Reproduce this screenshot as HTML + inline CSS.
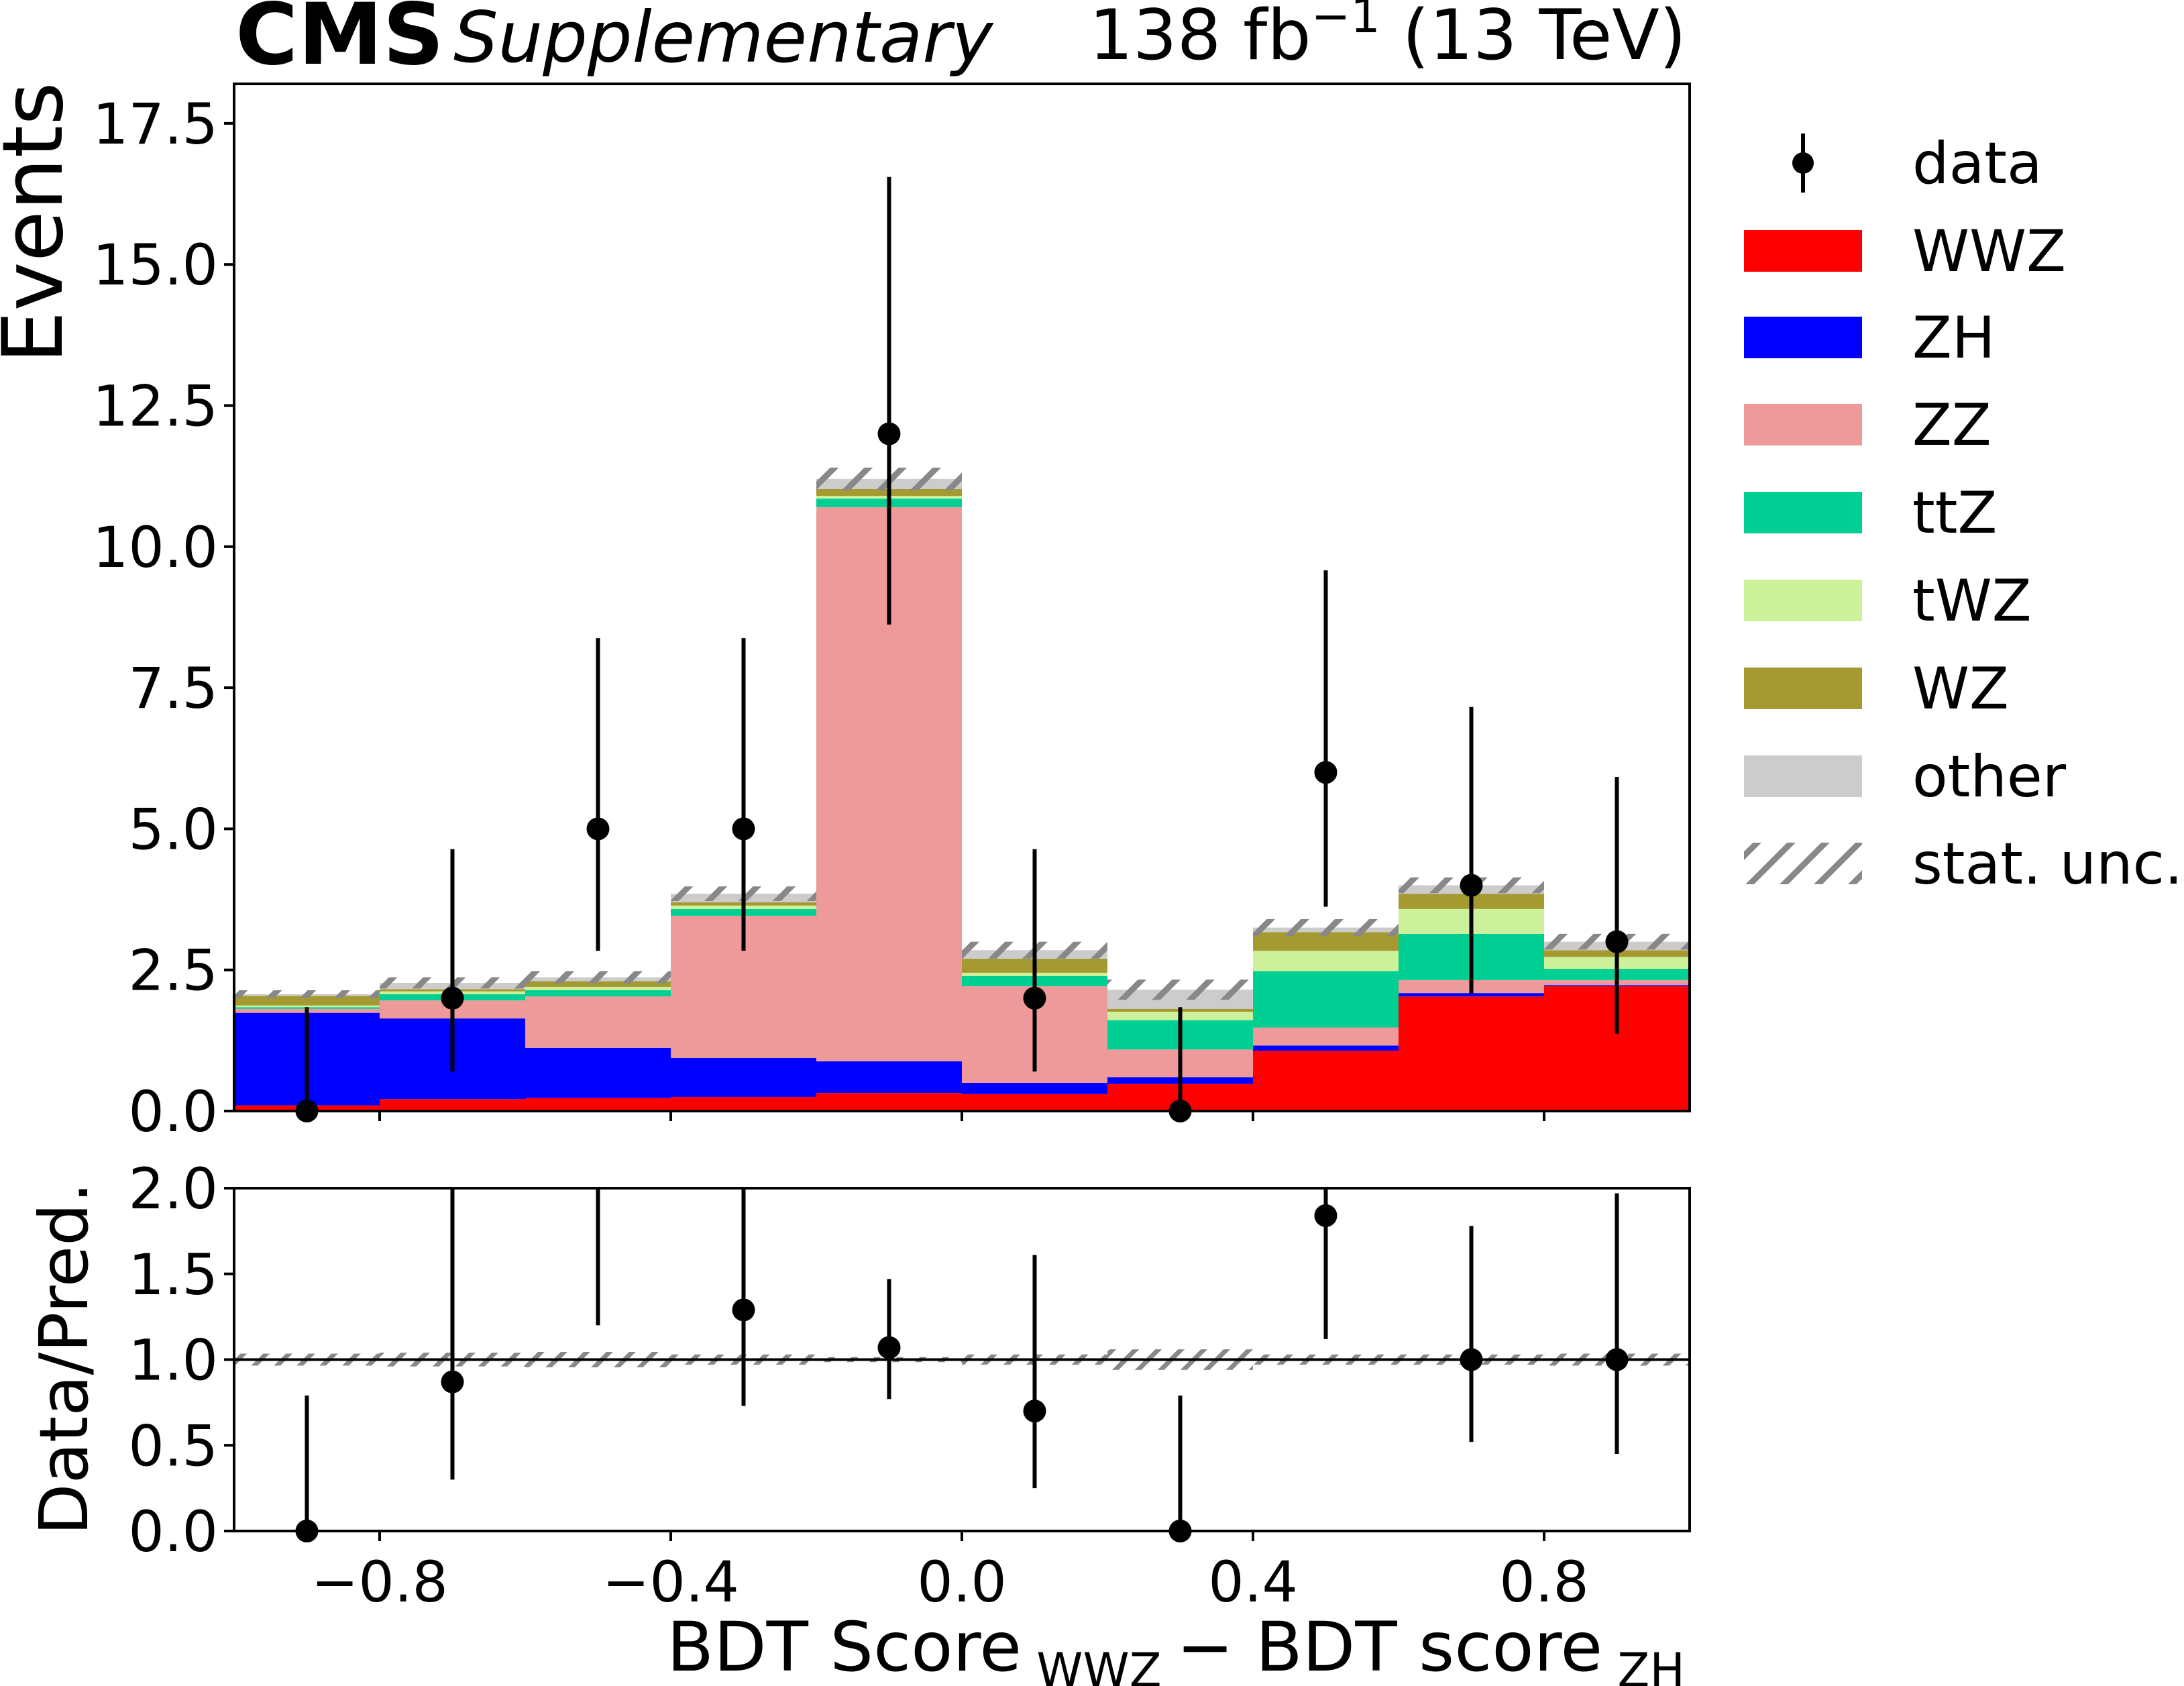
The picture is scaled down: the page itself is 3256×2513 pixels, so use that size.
<!DOCTYPE html>
<html><head><meta charset="utf-8"><style>
html,body{margin:0;padding:0;background:#fff}
svg{display:block}
text{font-family:"DejaVu Sans","Liberation Sans",sans-serif;fill:#000}
</style></head><body>
<svg id="chart" width="3256" height="2513" viewBox="0 0 3256 2513" xmlns="http://www.w3.org/2000/svg">
<defs>
<pattern id="hatch" patternUnits="userSpaceOnUse" width="36" height="36" patternTransform="rotate(45)">
<rect x="0" y="0" width="9" height="36" fill="#888"/>
</pattern>
<pattern id="hatch2" patternUnits="userSpaceOnUse" width="24" height="24" patternTransform="rotate(45)">
<rect x="0" y="0" width="7" height="24" fill="#888"/>
</pattern>
</defs>
<g id="main"></g>
<g id="ratio"></g>
<g id="legend"></g>
<text x="351" y="95" font-size="127" font-weight="bold">CMS</text>
<text x="676" y="92" font-size="105" font-style="italic">Supplementary</text>
<text x="2514" y="88" font-size="103" text-anchor="end">138 fb<tspan dy="-40" font-size="70">−1</tspan><tspan dy="40"> (13 TeV)</tspan></text>
<text transform="translate(92,332) rotate(-90)" font-size="124" text-anchor="middle">Events</text>
<text transform="translate(130,2025) rotate(-90)" font-size="100" text-anchor="middle">Data/Pred.</text>
<text x="2512" y="2490" font-size="102" text-anchor="end">BDT Score<tspan dy="24" font-size="70"> WWZ </tspan><tspan dy="-24"> − BDT score</tspan><tspan dy="24" font-size="70"> ZH</tspan></text>
</svg>
<script>
const binEdges = [-1,-0.8,-0.6,-0.4,-0.2,0,0.2,0.4,0.6,0.8,1];
const procNames = ["WWZ","ZH","ZZ","ttZ","tWZ","WZ","other"];
const procColors = ["#ff0000","#0000ff","#ee9a9a","#00cf93","#cdf09b","#a59a31","#cccccc"];
const cumWWZ   = [0.10,0.21,0.23,0.25,0.32,0.30,0.48,1.07,2.03,2.21];
const cumZH    = [1.74,1.64,1.12,0.94,0.88,0.50,0.60,1.16,2.09,2.23];
const cumZZ    = [1.81,1.96,2.03,3.46,10.70,2.21,1.09,1.48,2.32,2.32];
const cumTTZ   = [1.84,2.07,2.14,3.58,10.85,2.39,1.61,2.48,3.14,2.52];
const cumTWZ   = [1.87,2.12,2.20,3.64,10.90,2.45,1.76,2.84,3.58,2.73];
const cumWZ    = [2.04,2.16,2.30,3.70,11.02,2.70,1.81,3.17,3.85,2.85];
const cumOther = [2.07,2.27,2.37,3.85,11.20,2.85,2.15,3.25,4.00,3.00];
const statUnc  = [0.07,0.10,0.11,0.13,0.20,0.15,0.18,0.15,0.14,0.14];
const dataCounts = [0,2,5,5,12,2,0,6,4,3];
const dataLow  = [0,0.70,2.84,2.84,8.62,0.70,0,3.62,2.08,1.37];
const dataHigh = [1.84,4.64,8.38,8.38,16.55,4.64,1.84,9.58,7.16,5.92];
const ratioVal  = [0,0.87,2.11,1.29,1.07,0.70,0,1.84,1.00,1.00];
const ratioLow  = [0,0.30,1.20,0.73,0.77,0.25,0,1.12,0.52,0.45];
const ratioHigh = [0.79,2.5,2.5,2.5,1.47,1.61,0.79,2.5,1.78,1.97];
const ratioUnc  = [0.035,0.04,0.045,0.03,0.015,0.03,0.06,0.03,0.03,0.035];
const yTicks = [0,2.5,5,7.5,10,12.5,15,17.5];
const yTickLabels = ["0.0","2.5","5.0","7.5","10.0","12.5","15.0","17.5"];
const rTicks = [0,0.5,1,1.5,2];
const rTickLabels = ["0.0","0.5","1.0","1.5","2.0"];
const xTicks = [-0.8,-0.4,0,0.4,0.8];
const xTickLabels = ["−0.8","−0.4","0.0","0.4","0.8"];

const NS="http://www.w3.org/2000/svg";
const L=349,R=2519,MT=125,MB=1656,RT=1771,RB=2282,YMAX=18.2;
const sx=v=>L+(v+1)/2*(R-L);
const sy=v=>MB-v/YMAX*(MB-MT);
const ry=v=>RB-v/2*(RB-RT);
function mk(parent,tag,attrs){const e=document.createElementNS(NS,tag);for(const k in attrs)e.setAttribute(k,attrs[k]);parent.appendChild(e);return e;}
const main=document.getElementById('main'),ratio=document.getElementById('ratio'),leg=document.getElementById('legend');
const cums=[cumWWZ,cumZH,cumZZ,cumTTZ,cumTWZ,cumWZ,cumOther];
for(let i=0;i<10;i++){
  const x0=sx(binEdges[i]),x1=sx(binEdges[i+1]);
  for(let p=0;p<7;p++){
    const lo=p===0?0:cums[p-1][i],hi=cums[p][i];
    const r=mk(main,'rect',{x:x0,y:sy(hi),width:x1-x0,height:Math.max(0,sy(lo)-sy(hi)),fill:procColors[p]});
    
    
  }
  const t=cumOther[i],u=statUnc[i];
  const h=mk(main,'rect',{x:x0,y:sy(t+u),width:x1-x0,height:sy(t-u)-sy(t+u),fill:'url(#hatch)'});
  
  
  const ru=ratioUnc[i];
  const hr=mk(ratio,'rect',{x:x0,y:ry(1+ru),width:x1-x0,height:ry(1-ru)-ry(1+ru),fill:'url(#hatch2)'});
  
  
}
const fr=mk(main,'rect',{x:L,y:MT,width:R-L,height:MB-MT,fill:'none',stroke:'#000','stroke-width':4});


yTicks.forEach((v,k)=>{
  mk(main,'line',{x1:L-15,x2:L,y1:sy(v),y2:sy(v),stroke:'#000','stroke-width':4});
  const t=mk(main,'text',{x:L-24,y:sy(v)+30,'font-size':84,'text-anchor':'end'});t.textContent=yTickLabels[k];
  
  
});
xTicks.forEach(v=>{
  mk(main,'line',{x1:sx(v),x2:sx(v),y1:MB,y2:MB+15,stroke:'#000','stroke-width':4});
  mk(ratio,'line',{x1:sx(v),x2:sx(v),y1:RB,y2:RB+15,stroke:'#000','stroke-width':4});
});
xTicks.forEach((v,k)=>{
  const t=mk(ratio,'text',{x:sx(v),y:2387,'font-size':84,'text-anchor':'middle'});t.textContent=xTickLabels[k];
  
  
});
mk(ratio,'line',{x1:L,x2:R,y1:ry(1),y2:ry(1),stroke:'#000','stroke-width':4});
const fr2=mk(ratio,'rect',{x:L,y:RT,width:R-L,height:RB-RT,fill:'none',stroke:'#000','stroke-width':4});


rTicks.forEach((v,k)=>{
  mk(ratio,'line',{x1:L-15,x2:L,y1:ry(v),y2:ry(v),stroke:'#000','stroke-width':4});
  const t=mk(ratio,'text',{x:L-24,y:ry(v)+30,'font-size':84,'text-anchor':'end'});t.textContent=rTickLabels[k];
  
  
});
const clipR=v=>Math.min(2,Math.max(0,v));
for(let i=0;i<10;i++){
  const cx=sx((binEdges[i]+binEdges[i+1])/2);
  mk(main,'line',{x1:cx,x2:cx,y1:sy(dataLow[i]),y2:sy(dataHigh[i]),stroke:'#000','stroke-width':6});
  const c=mk(main,'circle',{cx:cx,cy:sy(dataCounts[i]),r:17,fill:'#000'});
  
  
  mk(ratio,'line',{x1:cx,x2:cx,y1:ry(clipR(ratioLow[i])),y2:ry(clipR(ratioHigh[i])),stroke:'#000','stroke-width':6});
  if(ratioVal[i]<=2.05){
    const c2=mk(ratio,'circle',{cx:cx,cy:ry(ratioVal[i]),r:17,fill:'#000'});
    
    
  }
}
const rows=[243,374,503,633,764,895,1026,1157,1287];
const labels=["data"].concat(procNames).concat(["stat. unc."]);
labels.forEach((lab,k)=>{
  const y=rows[k];
  if(k===0){
    mk(leg,'line',{x1:2688,x2:2688,y1:y-44,y2:y+44,stroke:'#000','stroke-width':6});
    mk(leg,'circle',{cx:2688,cy:y,r:16,fill:'#000'});
  } else if(k<=7){
    mk(leg,'rect',{x:2600,y:y-31,width:176,height:62,fill:procColors[k-1]});
  } else {
    mk(leg,'rect',{x:2600,y:y-31,width:176,height:62,fill:'url(#hatch)'});
  }
  const t=mk(leg,'text',{x:2851,y:y+30,'font-size':86});t.textContent=lab;
  
  
});
</script>
</body></html>
